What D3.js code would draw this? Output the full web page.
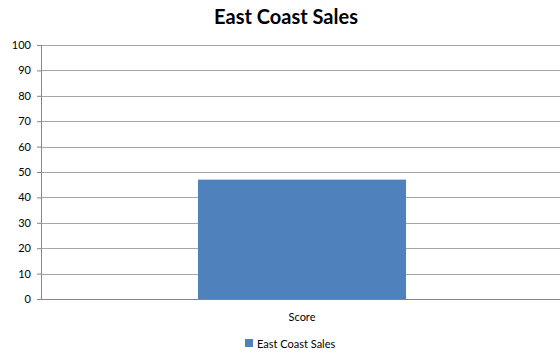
<!DOCTYPE html>
<html>
<head>
<meta charset="utf-8">
<script src="https://cdn.jsdelivr.net/npm/d3@7"></script>
<style>
  body { margin: 0; background: #fff; }
  svg { display: block; }
  text { font-family: Lato, "Open Sans", "Liberation Sans", sans-serif; }
</style>
</head>
<body>
<svg id="chart" width="560" height="354"></svg>
<script>
const categories = ["Score"];
const seriesName = "East Coast Sales";
const seriesValues = [47];
const yTicks = [0, 10, 20, 30, 40, 50, 60, 70, 80, 90, 100];

const svg = d3.select("#chart");
const margin = { top: 45, bottom: 55, left: 41 };
const W = 560, H = 354;
const innerW = 522; // plot area runs just past the right edge
const innerH = H - margin.top - margin.bottom;

const g = svg.append("g").attr("transform", `translate(${margin.left},${margin.top})`);

const x = d3.scaleBand().domain(categories).range([0, innerW]).padding(0.43);
const y = d3.scaleLinear().domain([0, 100]).range([innerH, 0]);

// horizontal gridlines
g.selectAll(".grid")
  .data(yTicks.filter(d => d > 0))
  .join("line")
  .attr("x1", 0).attr("x2", innerW)
  .attr("y1", d => Math.round(y(d)) + 0.5).attr("y2", d => Math.round(y(d)) + 0.5)
  .attr("stroke", "#a6a6a6").attr("stroke-width", 1);

// bars
g.selectAll(".bar")
  .data(seriesValues)
  .join("rect")
  .attr("x", (d, i) => x(categories[i]))
  .attr("y", d => y(d))
  .attr("width", x.bandwidth())
  .attr("height", d => innerH - y(d))
  .attr("fill", "#4f81bd");

// y axis
const yAxis = g.append("g")
  .call(d3.axisLeft(y).tickValues(yTicks).tickSize(4).tickPadding(6).tickFormat(d3.format("d")));
yAxis.select(".domain").attr("stroke", "#868686").attr("d", `M0.5,${innerH}V0`);
yAxis.selectAll(".tick line").attr("stroke", "#868686");
yAxis.selectAll(".tick text").attr("font-size", 11).attr("fill", "#000")
  .style("font-family", "Lato, 'Open Sans', sans-serif");

// x axis
const xAxis = g.append("g").attr("transform", `translate(0,${innerH})`)
  .call(d3.axisBottom(x).tickSize(0).tickPadding(14));
xAxis.select(".domain").attr("stroke", "#868686").attr("d", `M0,0.5H${innerW}`);
xAxis.selectAll(".tick text").attr("font-size", 11).attr("fill", "#000")
  .style("font-family", "Lato, 'Open Sans', sans-serif");

// title
svg.append("text")
  .attr("x", 286).attr("y", 24)
  .attr("text-anchor", "middle")
  .attr("font-size", 20).attr("font-weight", "bold")
  .text("East Coast Sales");

// legend
const legend = svg.append("g").attr("transform", "translate(245,339)");
legend.append("rect").attr("width", 8).attr("height", 8).attr("fill", "#4f81bd");
legend.append("text").attr("x", 12).attr("y", 8.5)
  .attr("font-size", 11).attr("fill", "#000").text(seriesName);
</script>
</body>
</html>
